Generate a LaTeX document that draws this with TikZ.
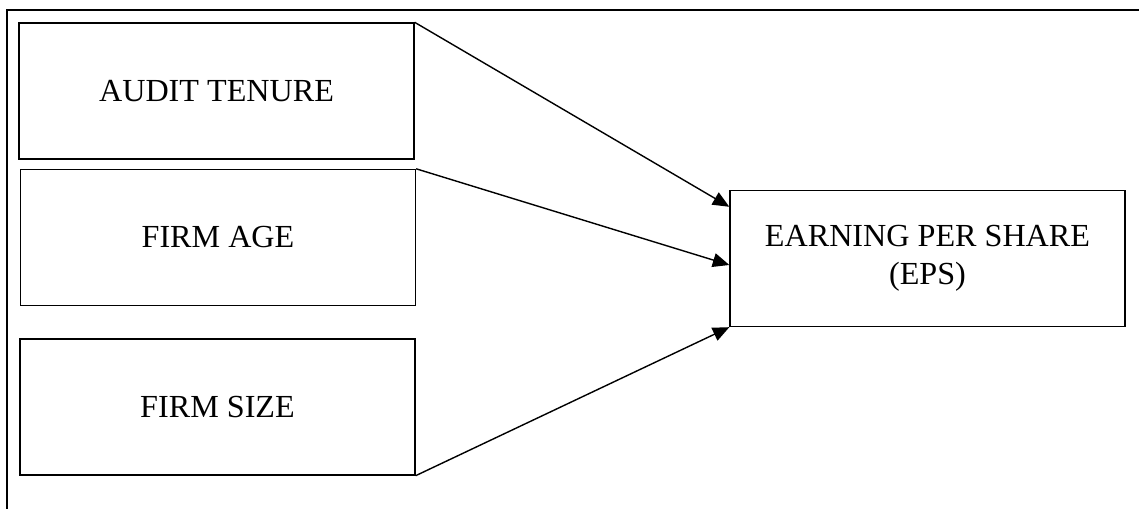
\documentclass[tikz,border=0pt]{standalone}
\usepackage{fontspec}
\setmainfont{Liberation Serif}
\usetikzlibrary{
    arrows.meta,
    calc
}
\tikzset {
    var box/.style = {
        draw,
        line width = 0.8pt,
        minimum width = 7.9cm,
        minimum height = 2.72cm,
        inner sep = 0pt,
        align = center,
        font = \fontsize{18.3}{21.5}\selectfont
    },
    frame line/.style = {line width = 0.8pt},
    %
    link/.style = {
        line width = 0.8pt,
        arrows = {-Triangle[length = 0.33cm, width = 0.28cm]}
    }
}

\begin{document}
\begin{tikzpicture}[x = 0.02cm, y = -0.02cm]
            \useasboundingbox (0, 0) rectangle (1139, 509);
            \coordinate (tr) at (1139, 10);
            \coordinate (bl) at (7, 509);
            \draw [frame line] (tr) -- (bl |- tr) -- (bl);
            \node (tenure) [var box] at (216.5, 91) {AUDIT TENURE};
            \node (age) [var box] at (218, 237.5) {FIRM AGE};
            \node (size) [var box] at (217.5, 407) {FIRM SIZE};
            \node (eps) [var box] at (927.5, 258.5) {EARNING PER SHARE\\(EPS)};
            \draw [link] (tenure.north east) -- ($ (eps.north west) + (0, 17) $);
            \draw [link] (age.north east) -- ($ (eps.west) + (0, 6.5) $);
            \draw [link] (size.south east) -- (eps.south west);
        \end{tikzpicture}
\end{document}
